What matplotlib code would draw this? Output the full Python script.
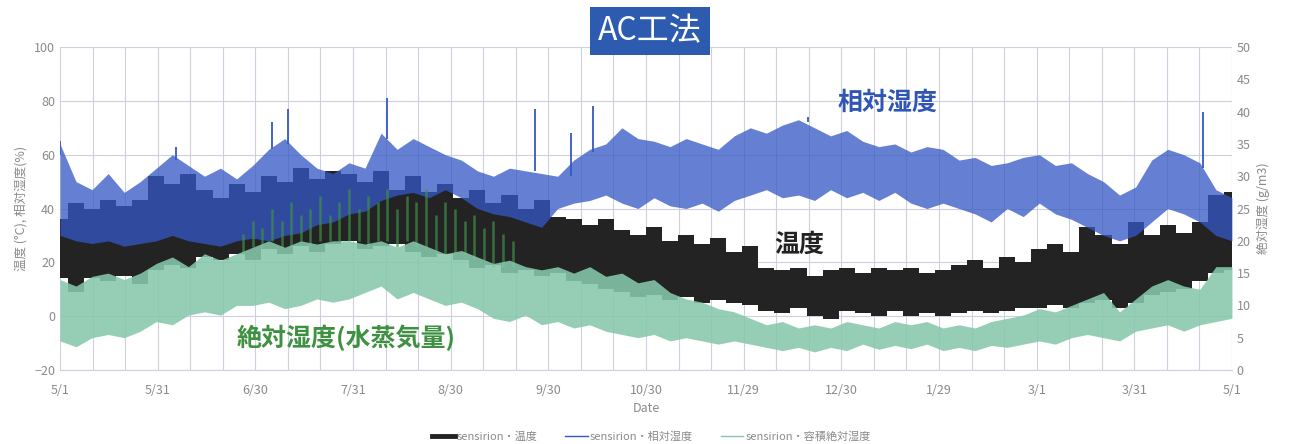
import matplotlib
matplotlib.use("Agg")
import matplotlib.pyplot as plt
import numpy as np

plt.rcParams['font.family'] = ['Noto Sans CJK JP', 'DejaVu Sans']

# x: days since 5/1, one value every 5 days (0..365)
days = list(range(0, 366, 5))

temp_hi = [36, 42, 40, 43, 41, 43, 52, 49, 53, 47, 44, 49, 46, 52, 50, 55, 51, 54, 53, 50,
           54, 47, 52, 46, 49, 44, 47, 42, 45, 40, 43, 37, 36, 34, 36, 32, 30, 33, 28, 30,
           27, 29, 24, 26, 18, 17, 18, 15, 17, 18, 16, 18, 17, 18, 16, 17, 19, 21, 18, 22,
           20, 25, 27, 24, 33, 30, 27, 35, 30, 34, 31, 35, 45, 46]
temp_lo = [14, 9, 14, 13, 15, 12, 17, 19, 18, 22, 21, 23, 21, 25, 23, 26, 24, 27, 28, 25,
           26, 27, 24, 22, 23, 21, 18, 19, 16, 17, 15, 16, 13, 12, 10, 9, 7, 8, 6, 7,
           5, 6, 5, 4, 2, 1, 3, 0, -1, 2, 1, 0, 2, 0, 1, 0, 1, 2, 1, 2,
           3, 3, 4, 3, 5, 6, 3, 5, 8, 9, 10, 13, 16, 17]

rh_hi = [64, 50, 47, 53, 46, 50, 55, 60, 56, 52, 55, 51, 56, 62, 66, 60, 55, 53, 57, 55,
         68, 62, 66, 63, 60, 58, 54, 52, 55, 54, 53, 52, 58, 62, 64, 70, 66, 65, 63, 66,
         64, 62, 67, 70, 68, 71, 73, 70, 67, 69, 65, 63, 64, 61, 63, 62, 58, 59, 56, 57,
         59, 60, 56, 57, 53, 50, 45, 48, 58, 62, 60, 57, 47, 44]
rh_lo = [30, 28, 27, 28, 26, 27, 28, 30, 28, 27, 26, 28, 29, 28, 30, 31, 34, 35, 38, 39,
         43, 45, 46, 44, 47, 44, 40, 38, 37, 35, 33, 40, 42, 43, 45, 42, 40, 44, 41, 40,
         42, 39, 43, 45, 47, 44, 45, 43, 47, 44, 46, 43, 46, 42, 40, 42, 40, 38, 35, 40,
         37, 42, 38, 36, 33, 30, 28, 30, 35, 40, 38, 35, 30, 28]
rh_spike_days = [0, 36, 66, 71, 102, 148, 159, 166, 233, 356]
rh_spike_base = [60, 58, 62, 64, 66, 54, 52, 61, 72, 55]
rh_spike_vals = [65, 63, 72, 77, 81, 77, 68, 78, 74, 76]

ah_hi = [14, 13, 14.5, 15, 14, 15, 16.5, 17.5, 16, 18, 17, 18, 19, 20, 19, 20, 19.5, 20, 20, 19.5,
         20, 19, 20, 19, 18, 18.5, 17.5, 16.5, 17, 16, 15.5, 16, 15, 16, 14.5, 15, 13.5, 14, 12, 11,
         10.5, 9.5, 9, 8, 7, 7.5, 6.5, 7, 6.5, 7.5, 7, 6.5, 7.5, 7, 7.5, 6.5, 7, 6.5, 7.5, 8,
         8.5, 9.5, 9, 10, 11, 12, 9, 11, 13, 14, 13, 12.5, 16, 16]
ah_lo = [4.5, 3.6, 5, 5.5, 5, 6, 7.5, 7, 8.5, 9, 8.5, 10, 10, 10.5, 9.5, 10, 11, 10.5, 11, 12,
         13, 11, 12, 11, 10, 10.5, 9.5, 8, 7.5, 8.5, 7, 7.5, 6.5, 7, 6, 5.5, 5, 5.5, 4.5, 5,
         4.5, 4, 4.5, 4, 3.5, 3, 3.5, 2.8, 3.5, 3, 4, 3.2, 3.8, 3.3, 4, 3, 3.5, 3, 3.8, 3.5,
         4, 4.5, 4, 5, 5.5, 5, 4.5, 6, 6.5, 7, 6, 7, 7.5, 8]
# humid summer days: water-vapour peaks reaching up into the temperature band
ah_peak_days = [57, 60, 63, 66, 69, 72, 75, 78, 81, 84, 87, 90, 93, 96, 99, 102, 105,
                108, 111, 114, 117, 120, 123, 126, 129, 132, 135, 138, 141]
ah_peak_base = [18, 19, 19, 20, 19, 19, 20, 19, 20, 20, 20, 20, 20, 19, 20, 20, 19,
                20, 19, 19, 18, 18, 18, 18, 17, 17, 16, 16, 16]
ah_peak_vals = [21, 23, 22, 25, 23, 26, 24, 25, 27, 24, 26, 28, 25, 27, 26, 28, 25,
                27, 26, 28, 24, 26, 25, 23, 24, 22, 23, 21, 20]

tick_pos = np.linspace(0, 365, 13)
tick_labels = ['5/1', '5/31', '6/30', '7/31', '8/30', '9/30', '10/30',
               '11/29', '12/30', '1/29', '3/1', '3/31', '5/1']

c_temp = '#232323'
c_rh = '#3558c4'
c_ah = '#86c8ab'
c_tick = '#8a8a8a'
c_grid = '#cfcfdf'

fig = plt.figure(figsize=(12.9, 4.44), dpi=100)
ax = fig.add_axes([0.0465, 0.1667, 0.9085, 0.7273])
ax2 = ax.twinx()

ax.fill_between(days, temp_lo, temp_hi, step='mid', color=c_temp, lw=0, zorder=2)
ax.fill_between(days, rh_lo, rh_hi, color=c_rh, alpha=0.76, lw=0, zorder=3)
ax.vlines(rh_spike_days, rh_spike_base, rh_spike_vals, color=c_rh, lw=1.3, zorder=3)
ax.set_zorder(1)
ax.patch.set_visible(False)

ax2.vlines(ah_peak_days, ah_peak_base, ah_peak_vals, color='#3f8f4a', alpha=0.7, lw=1.8, zorder=4)
ax2.fill_between(days, ah_lo, ah_hi, color=c_ah, alpha=0.88, lw=0, zorder=4)
ax2.set_zorder(2)

ax.set_xlim(0, 365)
ax.set_ylim(-20, 100)
ax2.set_ylim(0, 50)
ax.set_yticks(range(-20, 101, 20))
ax2.set_yticks(range(0, 51, 5))
ax.set_xticks(tick_pos)
ax.set_xticklabels(tick_labels)
ax.set_xticks(np.linspace(0, 365, 37), minor=True)

ax.grid(True, which='both', axis='x', color=c_grid, lw=0.8, zorder=0)
ax.grid(True, which='major', axis='y', color=c_grid, lw=0.8, zorder=0)

for a in (ax, ax2):
    for s in a.spines.values():
        s.set_visible(False)
    a.tick_params(colors=c_tick, labelsize=9, length=0)
ax.tick_params(axis='x', which='minor', length=0)
ax.tick_params(axis='x', pad=10)
ax.spines['bottom'].set_visible(True)
ax.spines['bottom'].set_color(c_grid)

ax.set_ylabel('温度 (°C), 相対湿度(%)', color=c_tick, fontsize=9, labelpad=5)
ax2.set_ylabel('絶対湿度 (g/m3)', color=c_tick, fontsize=9, labelpad=4)
ax.set_xlabel('Date', color=c_tick, fontsize=9, labelpad=4)

fig.text(0.504, 0.930, 'AC工法', ha='center', va='center', color='white', fontsize=23,
         bbox=dict(boxstyle='square,pad=0.25', fc='#2c5bb0', ec='none'))
ax.text(0.706, 0.827, '相対湿度', transform=ax.transAxes, color='#2f55b5', fontsize=18,
        fontweight='bold', ha='center', va='center')
ax.text(0.631, 0.387, '温度', transform=ax.transAxes, color='#222222', fontsize=18,
        fontweight='bold', ha='center', va='center')
ax.text(0.244, 0.099, '絶対湿度(水蒸気量)', transform=ax.transAxes, color='#3d9140', fontsize=18,
        fontweight='bold', ha='center', va='center')

handles = [plt.Line2D([], [], color=c_temp, lw=3.5),
           plt.Line2D([], [], color=c_rh, lw=1),
           plt.Line2D([], [], color=c_ah, lw=1)]
labels = ['sensirion・温度', 'sensirion・相対湿度', 'sensirion・容積絶対湿度']
leg = fig.legend(handles, labels, loc='lower center', bbox_to_anchor=(0.505, -0.017), ncol=3,
                 frameon=False, fontsize=8, handlelength=2, handletextpad=0.2, columnspacing=2.5)
for t in leg.get_texts():
    t.set_color(c_tick)

fig.savefig('out.png', dpi=100)
